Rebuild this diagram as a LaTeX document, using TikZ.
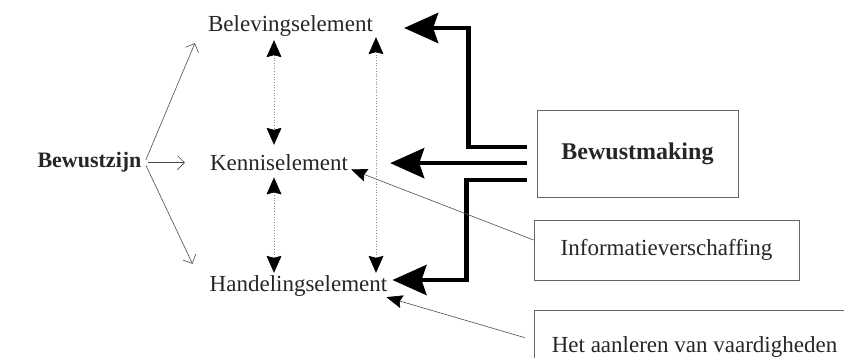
\documentclass[tikz,border=0pt]{standalone}
\usepackage{fontspec}
\setmainfont{Liberation Serif}
\usepackage{tikz}
\usetikzlibrary{arrows.meta}
\usetikzlibrary{positioning}
\tikzstyle{element} = [inner sep=3pt, text=black!85, font=\fontsize{23}{27}\selectfont]
\tikzstyle{boxed} = [rectangle, draw=black!60, line width=0.8pt, text=black!85, text centered, font=\fontsize{23}{27}\selectfont]
\tikzstyle{thickarrow} = [line width=4.5pt, -{Stealth[length=34pt,width=30pt,inset=5pt]}]
\tikzstyle{thinarrow} = [black!70, line width=0.6pt, -{Straight Barb[length=7pt,width=14pt]}]
\tikzstyle{dotarrow} = [black!45, dotted, line width=0.7pt, {Stealth[length=17pt,width=15pt,inset=2pt,black]}-{Stealth[length=17pt,width=15pt,inset=2pt,black]}]
\tikzstyle{linkarrow} = [black!70, line width=0.6pt, -{Stealth[length=16pt,width=13pt,inset=2pt,black]}]

\begin{document}
\begin{tikzpicture}[x=1pt, y=-1pt]
        \useasboundingbox (0,0) rectangle (844,358);

        \node (bewustzijn) [element, anchor=base, font=\fontsize{22}{26}\selectfont\bfseries] at (89.5,168) {Bewustzijn};
        \node (beleving) [element, anchor=base] at (290.5,32) {Belevingselement};
        \node (kennis) [element, anchor=base] at (279,171) {Kenniselement};
        \node (handeling) [element, anchor=base] at (298.5,292) {Handelingselement};
        \node (bewustmaking) [boxed, minimum width=201pt, minimum height=87pt, font=\fontsize{24}{28}\selectfont\bfseries] at (637.5,153.5) {Bewustmaking};
        \node (info) [boxed, minimum width=265pt, minimum height=60pt] at (666.5,250) {Informatieverschaffing};
        \node (aanleren) [boxed, minimum width=321pt, minimum height=73pt] at (694.5,346.6) {Het aanleren van vaardigheden};

        \draw [thinarrow, shorten <=3pt] (bewustzijn.east) -- ([xshift=-10pt,yshift=-3pt]beleving.south west);
        \draw [thinarrow, shorten <=3pt, shorten >=22pt] (bewustzijn.east) -- (bewustzijn.east -| kennis.west);
        \draw [thinarrow, shorten <=3pt] (bewustzijn.east) -- ([xshift=-14pt,yshift=9pt]handeling.north west);

        \draw [dotarrow, shorten >=7pt] ([xshift=-16.5pt]beleving.south) -- ([xshift=-5pt]kennis.north);
        \draw [dotarrow, shorten <=3pt] ([xshift=-5pt]kennis.south) -- ([xshift=-24.5pt]handeling.north);
        \draw [dotarrow] ([xshift=85.5pt,yshift=3pt]beleving.south) -- ([xshift=77.5pt]handeling.north);

        \draw [thickarrow, shorten >=28pt] ([xshift=-10pt,yshift=6.5pt]bewustmaking.west) -- ++(-58,0) |- ([yshift=-1.5pt]beleving.east);
        \draw [thickarrow, shorten >=39pt] ([xshift=-10pt]bewustmaking.west |- kennis.east) -- (kennis.east);
        \draw [thickarrow, shorten >=2pt] ([xshift=-10pt,yshift=-26.5pt]bewustmaking.west) -- ++(-60,0) |- ([yshift=6.5pt]handeling.east);

        \draw [linkarrow] ([yshift=10pt]info.west) -- ([yshift=5pt]kennis.south east);
        \draw [linkarrow] ([xshift=-9pt,yshift=9pt]aanleren.west) -- ([xshift=-4pt,yshift=3pt]handeling.south east);

    \end{tikzpicture}
\end{document}
